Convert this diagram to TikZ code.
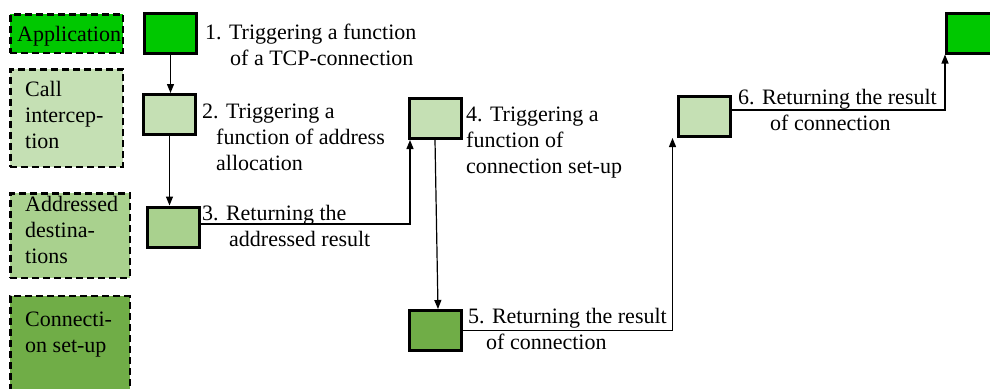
\documentclass[tikz,border=0pt]{standalone}
\usepackage{fontspec}
\setmainfont{Liberation Serif}
\usetikzlibrary{arrows.meta}

\definecolor{appgreen}{RGB}{0,200,0}
\definecolor{callgreen}{RGB}{197,224,180}
\definecolor{addrgreen}{RGB}{169,209,142}
\definecolor{conngreen}{RGB}{112,173,71}

\tikzset{
  every node/.style={font=\fontsize{22}{26}\selectfont},
  stagebox/.style={draw=black, line width=3pt, minimum width=52pt, minimum height=40pt, inner sep=0pt},
  legendbox/.style={draw=black, line width=2.5pt, dash pattern=on 7pt off 4pt, inner sep=0pt},
  % anchored at the baseline of the last line
  caption/.style={anchor=base west, align=left, inner sep=0pt},
  flow/.style={line width=1.2pt, -{Triangle[length=9pt,width=7pt]}}
}

\begin{document}
\begin{tikzpicture}[x=1pt,y=-1pt]
  \useasboundingbox (0,0) rectangle (990,388);
  \clip (0,0) rectangle (990,388);

  % legend of the stages
  \node[legendbox, fill=appgreen,  minimum width=112.5pt, minimum height=38.5pt] (lapp)  at (66.5,33.5) {};
  \node[legendbox, fill=callgreen, minimum width=112.5pt, minimum height=97.5pt] (lcall) at (66.5,118) {};
  \node[legendbox, fill=addrgreen, minimum width=119.5pt, minimum height=84.5pt] (laddr) at (70,235.5) {};
  \node[legendbox, fill=conngreen, minimum width=119.5pt, minimum height=102pt]  (lconn) at (70,347) {};

  \node[caption] (tapp)  at (17,41)  {Application};
  \node[caption] (tcall) at (25,148) {Call\\intercep-\\tion};
  \node[caption] (taddr) at (25,263) {Addressed\\destina-\\tions};
  \node[caption] (tconn) at (25,352) {Connecti-\\on set-up};

  % stages of the flow
  \node[stagebox, fill=appgreen]  (b1) at (170.5,33)   {};
  \node[stagebox, fill=callgreen] (b2) at (169.5,114.5) {};
  \node[stagebox, fill=addrgreen] (b3) at (173,227)    {};
  \node[stagebox, fill=callgreen] (b4) at (435,118.5)  {};
  \node[stagebox, fill=conngreen] (b5) at (435,330.5)  {};
  \node[stagebox, fill=callgreen] (b6) at (704.5,116.5) {};
  \node[stagebox, fill=appgreen]  (b7) at (972.5,33)   {};

  % step captions
  \node[caption] (s1) at (205,65)  {1. Triggering a function\\\hspace*{25pt}of a TCP-connection};
  \node[caption] (s2) at (202,170) {2. Triggering a\\\hspace*{14pt}function of address\\\hspace*{14pt}allocation};
  \node[caption] (s3) at (202,246) {3. Returning the\\\hspace*{27pt}addressed result};
  \node[caption] (s4) at (466,173) {4. Triggering a\\function of\\connection set-up};
  \node[caption] (s5) at (468,349) {5. Returning the result\\\hspace*{18pt}of connection};
  \node[caption] (s6) at (738,130) {6. Returning the result\\\hspace*{32pt}of connection};

  % connectors
  \draw[flow] (b1.south) -- (b1.south |- b2.north);
  \draw[flow] (b2.south) -- (b2.south |- b3.north);
  \draw[flow] ([yshift=3pt]b3.east) -| ([xshift=-25pt]b4.south);
  \draw[flow] (b4.south) -- ([xshift=3pt]b5.north);
  \draw[flow] (b5.east) -| ([xshift=-4.5pt]b6.south west);
  \draw[flow] ([yshift=6.5pt]b6.east) -| (b7.south west);
\end{tikzpicture}
\end{document}
